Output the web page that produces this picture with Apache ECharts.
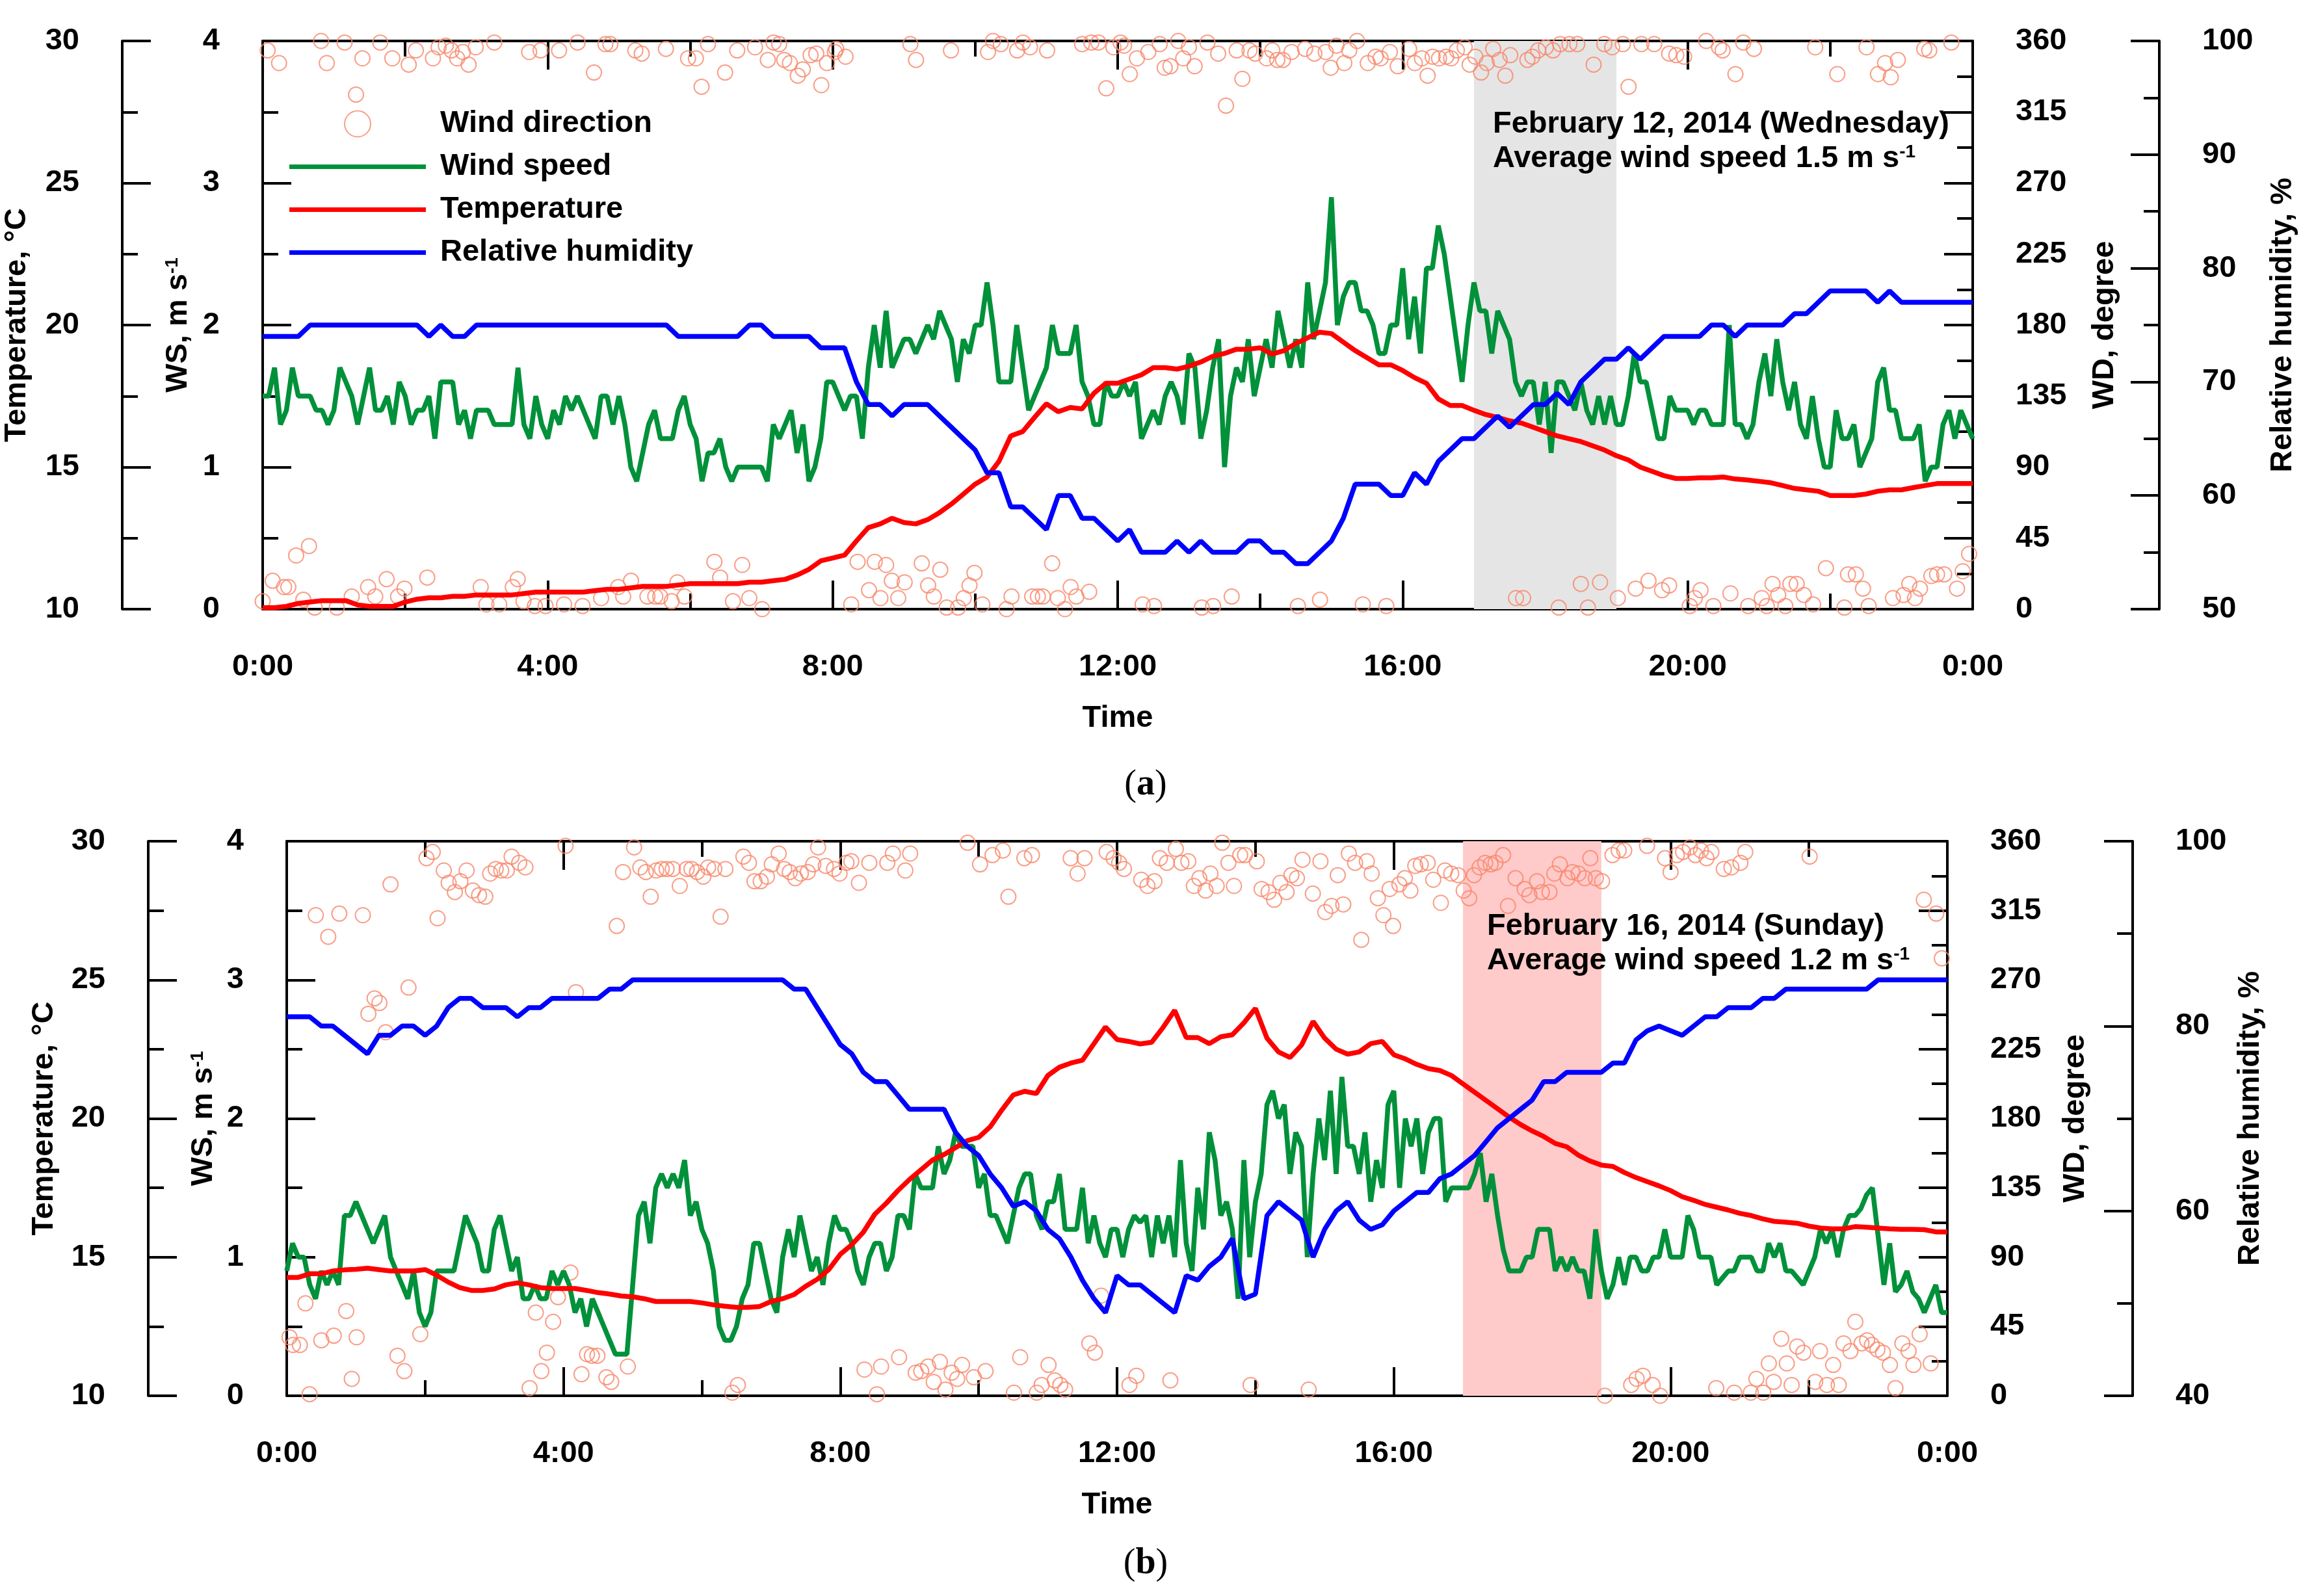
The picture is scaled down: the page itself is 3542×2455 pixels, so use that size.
<!DOCTYPE html>
<html>
<head>
<meta charset="utf-8">
<title>Wind, temperature and humidity</title>
<script src="https://cdn.jsdelivr.net/npm/echarts@6/dist/echarts.min.js"></script>
<style>
html,body{margin:0;padding:0;background:#fff;}
#chartContainer{width:3542px;height:2455px;}
</style>
</head>
<body>
<div id="chartContainer"></div>
<script>
// (a) February 12 - 5 min wind speed, 10 min temperature / humidity
var wsA = [1.5,1.5,1.7,1.3,1.4,1.7,1.5,1.5,1.5,1.4,1.4,1.3,1.4,1.7,1.6,1.5,1.3,1.5,1.7,1.4,
	1.4,1.5,1.3,1.6,1.5,1.3,1.4,1.4,1.5,1.2,1.6,1.6,1.6,1.3,1.4,1.2,1.4,1.4,1.4,1.3,
	1.3,1.3,1.3,1.7,1.3,1.2,1.5,1.3,1.2,1.4,1.3,1.5,1.4,1.5,1.4,1.3,1.2,1.5,1.5,1.3,
	1.5,1.3,1.0,0.9,1.1,1.3,1.4,1.2,1.2,1.2,1.4,1.5,1.3,1.2,0.9,1.1,1.1,1.2,1.0,0.9,
	1.0,1.0,1.0,1.0,1.0,0.9,1.3,1.2,1.3,1.4,1.1,1.3,0.9,1.0,1.2,1.6,
	1.6,1.5,1.4,1.5,1.5,1.2,1.7,2.0,1.7,2.1,1.7,1.8,1.9,1.9,1.8,1.9,2.0,1.9,2.1,2.0,
	1.9,1.6,1.9,1.8,2.0,2.0,2.3,2.0,1.6,1.6,1.6,2.0,1.7,1.4,1.5,1.6,1.7,2.0,1.8,1.8,
	1.8,2.0,1.6,1.5,1.3,1.3,1.6,1.5,1.5,1.6,1.5,1.6,1.2,1.3,1.4,1.3,1.5,1.6,1.5,1.3,
	1.8,1.7,1.2,1.4,1.7,1.9,1.0,1.5,1.7,1.6,1.9,1.5,1.7,1.9,1.7,2.1,1.9,1.7,1.9,1.7,
	2.3,1.9,2.1,2.3,2.9,2.0,2.2,2.3,2.3,2.1,2.1,2.0,1.8,1.8,2.0,2.0,
	2.4,1.9,2.2,1.8,2.4,2.4,2.7,2.5,2.2,1.9,1.6,2.0,2.3,2.1,2.1,1.8,2.1,2.0,1.9,1.6,
	1.5,1.6,1.6,1.3,1.6,1.1,1.6,1.6,1.5,1.4,1.6,1.4,1.3,1.5,1.3,1.5,1.3,1.3,1.5,1.8,
	1.6,1.6,1.4,1.2,1.2,1.5,1.4,1.4,1.4,1.3,1.4,1.4,1.3,1.3,1.3,2.0,1.3,1.3,1.2,1.3,
	1.6,1.8,1.5,1.9,1.6,1.4,1.6,1.3,1.2,1.5,1.2,1.0,1.0,1.4,1.2,1.2,1.3,1.0,1.1,1.2,
	1.6,1.7,1.4,1.4,1.2,1.2,1.2,1.3,0.9,1.0,1.0,1.3,1.4,1.2,1.4,1.3,1.2];
var tempA = [10.05,10.05,10.1,10.2,10.25,10.3,10.3,10.3,10.15,10.1,10.1,10.1,10.25,10.35,10.4,10.4,
	10.45,10.45,10.5,10.5,10.5,10.5,10.55,10.6,10.6,10.6,10.6,10.6,10.65,10.7,10.7,10.75,10.8,10.8,
	10.8,10.85,10.9,10.9,10.9,10.9,10.9,10.95,10.95,11.0,11.05,11.2,11.4,11.7,11.8,
	11.9,12.4,12.87,13.0,13.2,13.05,13.0,13.15,13.4,13.7,14.05,14.4,14.65,15.2,16.1,16.25,16.75,
	17.23,16.95,17.1,17.05,17.6,17.95,17.95,18.1,18.25,18.5,18.5,18.45,18.55,18.7,18.9,19.0,19.15,
	19.15,19.2,18.98,19.1,19.35,19.55,19.75,19.7,19.4,19.1,18.85,18.6,18.6,18.4,
	18.15,17.95,17.4,17.17,17.17,17.0,16.85,16.75,16.63,16.55,16.4,16.25,16.1,16.0,15.9,15.75,
	15.6,15.4,15.25,15.0,14.85,14.7,14.6,14.6,14.62,14.62,14.65,14.58,14.55,14.5,14.45,14.35,
	14.25,14.2,14.15,14.0,14.0,14.0,14.05,14.15,14.2,14.2,14.28,14.35,14.42,14.42,14.42,14.42];
var rhA = [74,74,74,74,75,75,75,75,75,75,75,75,75,75,74,75,74,74,75,75,75,75,75,75,75,75,75,75,
	75,75,75,75,75,75,75,74,74,74,74,74,74,75,75,74,74,74,74,73,73,
	73,70,68,68,67,68,68,68,67,66,65,64,62,62,59,59,58,57,60,60,58,58,57,56,57,55,55,55,56,55,
	56,55,55,55,56,56,55,55,54,54,55,56,58,61,61,61,60,60,
	62,61,63,64,65,65,66,67,66,67,68,68,69,68,70,71,72,72,73,72,73,74,74,74,74,75,75,74,75,75,
	75,75,76,76,77,78,78,78,78,77,78,77,77,77,77,77,77,77];
var wdA = [[0.07,354],[0.23,346],[0.82,360],[0.9,346],[1.15,359],[1.31,326],[1.4,349],[1.65,359],
	[1.82,349],[2.05,345],[2.15,354],[2.39,349],[2.47,356],[2.57,357],[2.65,354],[2.73,349],[2.81,353],
	[2.89,345],[2.99,356],[3.25,359],[3.74,353],[3.9,354],[4.16,354],[4.42,359],[4.65,340],[4.81,358],
	[4.88,358],[5.23,354],[5.32,352],[5.66,355],[5.97,349],[6.08,349],[6.16,331],[6.25,358],[6.49,340],
	[6.66,354],[6.91,356],[7.09,348],[7.17,359],[7.25,358],[7.32,348],[7.4,346],[7.51,338],[7.58,342],
	[7.69,351],[7.77,352],[7.84,332],[7.92,346],[8.03,353],
	[0,5],[0.14,18],[0.3,14],[0.36,14],[0.47,34],[0.65,40],[0.57,6],[0.73,1],[1.04,1],[1.25,8],
	[1.48,14],[1.58,8],[1.74,19],[1.9,8],[1.99,13],[2.31,20],[3.06,14],[3.14,3],[3.32,3],[3.51,14],
	[3.58,19],[3.66,5],[3.82,2],[3.97,2],[4.23,3],[4.49,2],[4.75,7],[4.99,14],[5.06,8],[5.17,18],
	[5.4,8],[5.51,8],[5.58,8],[5.74,5],[5.82,17],[5.92,8],[6.34,30],[6.42,20],[6.6,5],[6.73,28],
	[6.83,7],[7.01,0],
	[8.05,355],[8.18,350],[9.09,358],[9.17,348],[9.66,354],[10.18,353],[10.25,360],[10.36,358],
	[10.59,354],[10.67,359],[10.77,356],[11.01,354],[11.5,358],[11.63,359],[11.73,359],[11.84,330],
	[11.94,356],[12.04,359],[12.09,357],[12.17,339],[12.27,349],[12.43,353],[12.59,358],[12.66,343],
	[12.74,344],[12.85,360],[12.92,349],[13.0,356],[13.08,344],[13.26,359],[13.41,352],[13.52,319],
	[13.67,354],[13.75,336],[13.85,354],[13.93,352],[14.09,349],[14.17,354],[14.24,348],[14.32,348],
	[14.44,353],[14.63,355],[14.76,352],[14.92,353],[14.99,343],[15.07,357],[15.18,346],[15.25,354],
	[15.36,360],[15.51,346],[15.62,350],[15.69,349],[15.82,353],[15.93,344],
	[8.26,3],[8.35,30],[8.51,12],[8.59,30],[8.67,7],[8.75,28],[8.83,18],[8.92,7],[9.01,17],[9.25,29],
	[9.34,15],[9.42,8],[9.51,25],[9.6,1],[9.76,1],[9.84,7],[9.92,15],[9.99,23],[10.1,3],[10.44,0],
	[10.51,8],[10.8,8],[10.88,8],[10.95,8],[11.08,29],[11.16,7],[11.26,0],[11.34,14],[11.42,8],
	[11.6,11],[12.35,3],[12.51,2],[13.18,1],[13.34,2],[13.6,8],[14.53,2],[14.84,6],[15.44,3],[15.77,2],
	[16.09,355],[16.17,346],[16.27,349],[16.35,338],[16.42,350],[16.51,349],[16.61,350],[16.68,349],
	[16.76,354],[16.87,356],[16.94,345],[17.02,350],[17.1,340],[17.18,346],[17.27,355],[17.36,348],
	[17.44,338],[17.51,351],[17.75,348],[17.82,350],[17.9,354],[18.01,356],[18.11,354],[18.21,358],
	[18.34,358],[18.45,358],[18.68,345],[18.83,358],[18.94,356],[19.09,358],[19.17,331],[19.35,358],
	[19.53,358],[19.74,352],[19.84,351],[19.95,350],[20.26,360],[20.44,356],[20.49,354],[20.67,339],
	[20.78,359],[20.93,355],[21.79,356],[22.1,339],[22.51,356],[22.67,339],[22.77,346],[22.85,337],
	[22.95,348],[23.32,355],[23.39,354],[23.7,359],
	[17.59,7],[17.69,7],[18.19,1],[18.5,16],[18.6,1],[18.77,17],[19.02,7],[19.27,13],[19.45,18],
	[19.64,12],[19.74,15],[20.03,2],[20.1,7],[20.18,12],[20.36,2],[20.6,10],[20.85,2],[21.04,7],
	[21.11,2],[21.19,16],[21.27,9],[21.37,2],[21.44,16],[21.53,16],[21.63,9],[21.76,3],[21.94,26],
	[22.2,1],[22.25,22],[22.36,22],[22.46,13],[22.54,2],[22.88,7],[23.03,9],[23.11,16],[23.19,7],
	[23.26,13],[23.42,21],[23.5,22],[23.6,22],[23.78,13],[23.86,24],[23.95,35]];

// (b) February 16
var wsB = [0.9,1.1,1.0,1.0,0.8,0.7,0.9,0.8,0.9,0.8,1.3,1.3,1.4,1.3,1.2,1.1,1.2,1.3,1.0,0.9,
	0.8,0.7,0.9,0.6,0.5,0.6,0.9,0.9,0.9,0.9,1.1,1.3,1.2,1.1,0.9,0.9,1.2,1.3,1.1,0.9,
	1.0,0.7,0.7,0.8,0.7,0.7,0.9,0.8,0.9,0.8,0.6,0.7,0.5,0.7,0.6,0.5,0.4,0.3,0.3,0.3,
	0.8,1.3,1.4,1.1,1.5,1.6,1.5,1.6,1.5,1.7,1.3,1.4,1.2,1.1,0.9,0.5,0.4,0.4,0.5,0.7,
	0.8,1.1,1.1,0.9,0.7,0.6,1.0,1.2,1.0,1.3,1.1,0.9,1.0,0.8,1.1,1.3,
	1.2,1.2,1.1,0.9,0.8,1.0,1.1,1.1,0.9,1.0,1.3,1.3,1.2,1.6,1.5,1.5,1.5,1.8,1.6,1.7,
	1.9,1.8,1.8,1.8,1.5,1.6,1.3,1.3,1.2,1.1,1.3,1.5,1.6,1.6,1.3,1.2,1.4,1.4,1.6,1.2,
	1.2,1.2,1.5,1.1,1.3,1.1,1.0,1.2,1.2,1.0,1.2,1.3,1.25,1.3,1.0,1.3,1.1,1.3,1.0,1.7,
	1.1,0.9,1.5,1.2,1.9,1.7,1.3,1.4,1.2,0.7,1.7,1.0,1.4,1.6,2.1,2.2,2.0,2.1,1.6,1.9,
	1.8,1.0,1.6,2.0,1.7,2.2,1.6,2.3,1.8,1.8,1.6,1.9,1.4,1.7,1.5,2.1,
	2.2,1.5,2.0,1.8,2.0,1.6,1.9,2.0,2.0,1.4,1.5,1.5,1.5,1.5,1.6,1.75,1.4,1.6,1.3,1.05,
	0.9,0.9,0.9,1.0,1.0,1.2,1.2,1.2,0.9,1.0,0.9,1.0,0.9,0.9,0.7,1.2,0.9,0.7,0.8,1.0,
	0.8,1.0,1.0,0.9,0.9,1.0,1.0,1.2,1.0,1.0,1.0,1.3,1.2,1.0,1.0,1.0,0.8,0.85,0.9,0.9,
	1.0,1.0,1.0,0.9,0.9,1.1,1.0,1.1,0.9,0.9,0.85,0.8,0.9,1.0,1.2,1.1,1.2,1.0,1.2,1.3,
	1.3,1.35,1.45,1.5,1.15,0.8,1.1,0.75,0.8,0.9,0.75,0.7,0.6,0.7,0.8,0.6,0.6];
var tempB = [14.27,14.27,14.4,14.4,14.5,14.54,14.56,14.6,14.55,14.5,14.5,14.5,14.55,14.35,14.1,13.9,
	13.8,13.8,13.85,14.0,14.07,14.0,13.9,13.87,13.87,13.87,13.8,13.72,13.67,13.6,13.57,13.5,13.4,13.4,
	13.4,13.4,13.35,13.28,13.23,13.19,13.19,13.22,13.4,13.5,13.65,13.95,14.2,14.55,15.1,
	15.45,15.9,16.55,16.95,17.4,17.8,18.15,18.5,18.7,18.95,19.2,19.32,19.7,20.3,20.85,20.98,20.9,
	21.55,21.85,22.0,22.1,22.7,23.3,22.85,22.78,22.69,22.75,23.29,23.9,22.92,22.92,22.7,22.95,23.02,
	23.45,23.97,22.9,22.4,22.2,22.65,23.5,22.9,22.5,22.32,22.4,22.7,22.78,22.3,
	22.15,21.95,21.8,21.73,21.55,21.25,20.95,20.65,20.35,20.05,19.78,19.55,19.35,19.1,18.98,18.68,
	18.47,18.32,18.27,18.05,17.87,17.72,17.57,17.4,17.18,17.05,16.9,16.8,16.7,16.58,16.5,16.38,
	16.29,16.26,16.22,16.12,16.05,16.02,16.02,16.1,16.08,16.05,16.02,16.0,16.0,15.99,15.91,15.91];
var rhB = [81,81,81,80,80,79,78,77,79,79,80,80,79,80,82,83,83,82,82,82,81,82,82,83,83,83,83,83,
	84,84,85,85,85,85,85,85,85,85,85,85,85,85,85,85,84,84,82,80,78,
	77,75,74,74,72.5,71,71,71,71,68.5,67,66,64,62.5,60.5,61,60,58,57,55,52.5,50.5,49,53,52,52,
	51,50,49,53,52.5,54,55,57,50.5,51,59.5,61,60,59,55,58,60,61,59,58,58.5,60,
	61,62,62,63.5,64,65,66,67.5,69,70,71,72,74,74,75,75,75,75,76,76,78.5,79.5,80,79.5,79,80,
	81,81,82,82,82,83,83,84,84,84,84,84,84,84,84,85,85,85,85,85,85,85];
var wdB = [[0.04,38],[0.09,33],[0.19,33],[0.27,60],[0.33,1],[0.42,312],[0.5,36],[0.6,298],[0.68,39],
	[0.76,313],[0.86,55],[0.94,11],[1.01,38],[1.1,312],[1.18,248],[1.27,258],[1.34,255],[1.43,236],
	[1.5,332],[1.6,26],[1.7,16],[1.76,265],[1.93,40],[2.02,349],[2.11,353],[2.18,310],[2.27,341],
	[2.34,333],[2.43,327],[2.51,334],[2.6,341],[2.69,328],[2.78,325],[2.87,324],[2.94,339],[3.02,342],
	[3.1,341],[3.18,341],[3.25,350],[3.36,346],[3.45,343],[3.51,5],[3.6,54],[3.68,16],[3.76,28],
	[3.85,48],[3.92,64],[4.03,357],[4.1,80],[4.18,262],[4.26,14],[4.34,27],[4.41,26],[4.49,26],
	[4.62,12],[4.69,9],[4.77,305],[4.86,340],[4.93,19],[5.02,356],[5.11,343],[5.19,340],[5.26,324],
	[5.34,341],[5.42,342],[5.49,342],[5.58,342],[5.68,331],[5.78,342],[5.85,342],[5.93,340],[6.02,337],
	[6.09,343],[6.18,342],[6.27,311],[6.34,342],[6.44,2],[6.52,7],[6.6,350],[6.68,346],[6.76,334],
	[6.85,334],[6.94,337],[7.01,345],[7.11,352],[7.19,342],[7.27,340],[7.35,336],[7.43,339],[7.53,340],
	[7.61,345],[7.68,356],[7.79,344],[7.91,342],[7.99,339],
	[8.09,346],[8.16,347],[8.27,333],[8.42,346],[8.68,346],[8.76,352],[8.94,341],[9.01,352],[9.84,359],
	[10.02,345],[10.2,351],[10.35,354],[10.43,324],[10.66,349],[10.77,351],[11.33,349],[11.43,339],
	[11.53,349],[11.85,353],[11.95,349],[12.03,346],[12.1,342],[12.35,335],[12.44,331],[12.54,334],
	[12.62,349],[12.72,346],[12.85,355],[12.93,346],[13.03,347],[13.11,331],[13.19,336],[13.28,328],
	[13.35,339],[13.44,331],[13.52,359],[13.61,346],[13.69,331],[13.78,351],[13.85,351],[14.02,347],
	[14.09,329],[14.19,327],[14.27,322],[14.36,333],[14.45,327],[14.52,338],[14.6,336],[14.68,348],
	[14.83,326],[14.94,347],[15.01,314],[15.1,318],[15.19,338],[15.27,319],[15.35,352],[15.44,346],
	[15.53,296],[15.61,347],[15.68,339],[15.77,323],[15.85,312],[15.94,329],[15.99,305],
	[8.35,17],[8.53,1],[8.59,19],[8.85,25],[9.09,15],[9.17,16],[9.27,19],[9.35,9],[9.44,22],[9.52,4],
	[9.61,15],[9.69,11],[9.76,20],[9.93,12],[10.1,16],[10.51,2],[10.6,25],[10.84,2],[10.91,7],
	[11.01,20],[11.1,10],[11.18,7],[11.25,4],[11.6,34],[11.68,28],[11.77,65],[12.18,7],[12.28,13],
	[12.77,10],[13.93,7],[14.77,4],
	[16.08,332],[16.16,336],[16.24,328],[16.31,344],[16.39,345],[16.49,346],[16.57,335],[16.68,320],
	[16.74,341],[16.83,339],[16.93,338],[17.01,328],[17.09,323],[17.16,338],[17.24,343],[17.32,346],
	[17.4,345],[17.47,346],[17.58,351],[17.65,318],[17.76,336],[17.89,329],[17.96,325],[18.07,334],
	[18.14,327],[18.25,327],[18.32,339],[18.4,345],[18.51,336],[18.58,340],[18.67,339],[18.76,336],
	[18.84,349],[18.92,336],[19.01,334],[19.16,351],[19.25,354],[19.33,354],[19.66,357],[19.92,349],
	[20.0,340],[20.09,351],[20.18,353],[20.28,356],[20.36,351],[20.44,354],[20.52,349],[20.59,353],
	[20.77,342],[20.88,343],[21.01,346],[21.08,353],[22.01,350],[23.66,322],[23.84,313],[23.92,284],
	[19.05,0],[19.43,7],[19.51,11],[19.6,13],[19.74,7],[19.85,0],[20.66,5],[20.92,2],[21.16,2],
	[21.24,11],[21.34,2],[21.42,21],[21.49,9],[21.6,37],[21.68,21],[21.75,7],[21.83,32],[21.92,28],
	[22.09,9],[22.16,29],[22.26,7],[22.35,20],[22.43,7],[22.5,34],[22.6,29],[22.67,48],[22.76,34],
	[22.84,36],[22.91,33],[22.99,30],[23.07,28],[23.17,20],[23.25,5],[23.35,34],[23.44,29],[23.51,20],
	[23.6,40],[23.76,21]];

var FONT = '"Liberation Sans", Arial, sans-serif';
var circleColor = '#f7876a';
var FS = 47;

// 5 min / 10 min samples -> [hour, value]
function toPairs(arr, perHour){
	var out = [];
	for(var i=0;i<arr.length;i++){
		out.push([i/perHour, arr[i]]);
	}
	return out;
}
function richName(txt, sup){
	return sup ? '{n|'+txt+'}{s|'+sup+'}' : '{n|'+txt+'}';
}
var nameRich = {
	n:{fontSize:FS,fontWeight:'bold',fontFamily:FONT,color:'#000'},
	s:{fontSize:28,fontWeight:'bold',fontFamily:FONT,color:'#000',verticalAlign:'top'}
};
// ticks came out pointing into the plot, so flip them
var tickStyle = {show:true,inside:true,length:44,lineStyle:{color:'#000',width:4}};
var minorStyle = {show:true,splitNumber:2,length:24,lineStyle:{color:'#000',width:4}};
//x axis, bottom with labels or top mirror
function xAx(grid, top){
	return {
		type:'value', gridIndex:grid, position: top?'top':'bottom',
		min:0, max:24, interval:4,
		name: top?'':'Time', nameLocation:'middle', nameGap:145,
		nameTextStyle:{fontSize:FS,fontWeight:'bold',fontFamily:FONT,color:'#000'},
		axisLine:{show:true,onZero:false,lineStyle:{color:'#000',width:4}},
		axisTick:tickStyle, minorTick:minorStyle,
		splitLine:{show:false}, minorSplitLine:{show:false},
		axisLabel:{show:!top,inside:false,margin:66,fontSize:FS,fontWeight:'bold',fontFamily:FONT,color:'#000',
			showMinLabel:true,showMaxLabel:true,
			formatter:function(v){ return (v%24)+':00'; }}
	};
}
function yAx(grid, pos, off, min, max, step, name, sup, gap){
	return {
		type:'value', gridIndex:grid, position:pos, offset:off,
		min:min, max:max, interval:step,
		name:richName(name, sup), nameLocation:'middle', nameGap:gap, nameRotate:90,
		nameTextStyle:{rich:nameRich},
		axisLine:{show:true,onZero:false,lineStyle:{color:'#000',width:4}},
		axisTick:tickStyle, minorTick:minorStyle,
		splitLine:{show:false}, minorSplitLine:{show:false},
		axisLabel:{inside:false,margin:66,fontSize:FS,fontWeight:'bold',fontFamily:FONT,color:'#000',
			showMinLabel:true,showMaxLabel:true}
	};
}
function panelSeries(grid, ws, temp, rh, wd, shade){
	var y0 = grid*4;
	return [
		{type:'line', xAxisIndex:grid*2, yAxisIndex:y0, data:[], z:1, silent:true,
			markArea:{silent:true, z:1, itemStyle:{color:shade}, data:[[{xAxis:17},{xAxis:19}]]}},
		{name:'Wind direction', type:'scatter', xAxisIndex:grid*2, yAxisIndex:y0+2, data:wd,
			symbol:'circle', symbolSize:23, z:2,
			itemStyle:{color:'rgba(255,255,255,0)', borderColor:circleColor, borderWidth:2}},
		{name:'Wind speed', type:'line', xAxisIndex:grid*2, yAxisIndex:y0, data:toPairs(ws,12),
			symbol:'none', z:3, lineStyle:{color:'#00913a', width:7.5}, itemStyle:{color:'#00913a'}},
		{name:'Temperature', type:'line', xAxisIndex:grid*2, yAxisIndex:y0+1, data:toPairs(temp,6),
			symbol:'none', z:4, lineStyle:{color:'#ff0000', width:7.5}, itemStyle:{color:'#ff0000'}},
		{name:'Relative humidity', type:'line', xAxisIndex:grid*2, yAxisIndex:y0+3, data:toPairs(rh,6),
			symbol:'none', z:5, lineStyle:{color:'#0000ff', width:7.5}, itemStyle:{color:'#0000ff'}}
	];
}
function label(x, y, line1, line2){
	return [
		{type:'text', x:x, y:y, z:200, style:{text:line1, font:'bold '+FS+'px '+FONT, fill:'#000', verticalAlign:'middle'}},
		{type:'text', x:x, y:y+53, z:200, style:{text:'{a|'+line2+'}{s|-1}', verticalAlign:'middle',
			rich:{a:{fontSize:FS,fontWeight:'bold',fontFamily:FONT,color:'#000'},
				s:{fontSize:28,fontWeight:'bold',fontFamily:FONT,color:'#000',verticalAlign:'top'}}}}
	];
}
function panelTag(x, y, ch){
	return {type:'text', x:x, y:y, z:200, style:{text:'{n|(}{b|'+ch+'}{n|)}', align:'center', verticalAlign:'middle',
		rich:{n:{fontSize:56,fontFamily:'"Liberation Serif", serif',color:'#000'},
			b:{fontSize:56,fontWeight:'bold',fontFamily:'"Liberation Serif", serif',color:'#000'}}}};
}
var lineIcon = 'path://M0,0H300V10H0Z';

var option = {
	animation:false,
	backgroundColor:'#fff',
	textStyle:{fontFamily:FONT},
	grid:[
		{left:404, top:63, width:2630, height:874, outerBoundsMode:'none', containLabel:false},
		{left:441, top:1294, width:2554, height:853, outerBoundsMode:'none', containLabel:false}
	],
	legend:{
		orient:'vertical', left:440, top:162, selectedMode:false,
		itemWidth:210, itemHeight:40, itemGap:19,
		textStyle:{fontSize:FS, fontWeight:'bold', fontFamily:FONT, color:'#000', padding:[0,0,0,17]},
		data:[
			{name:'Wind direction', icon:'circle',
				itemStyle:{color:'rgba(255,255,255,0)', borderColor:circleColor, borderWidth:2}},
			{name:'Wind speed', icon:lineIcon, itemStyle:{color:'#00913a', borderWidth:0}},
			{name:'Temperature', icon:lineIcon, itemStyle:{color:'#ff0000', borderWidth:0}},
			{name:'Relative humidity', icon:lineIcon, itemStyle:{color:'#0000ff', borderWidth:0}}
		]
	},
	xAxis:[xAx(0,false), xAx(0,true), xAx(1,false), xAx(1,true)],
	yAxis:[
		yAx(0,'left',0,0,4,1,'WS, m s','-1',106),
		yAx(0,'left',216,10,30,5,'Temperature, \u00b0C','',138),
		yAx(0,'right',0,0,360,45,'WD, degree','',180),
		yAx(0,'right',287,50,100,10,'Relative humidity, %','',167),
		yAx(1,'left',0,0,4,1,'WS, m s','-1',104),
		yAx(1,'left',213,10,30,5,'Temperature, \u00b0C','',136),
		yAx(1,'right',0,0,360,45,'WD, degree','',174),
		yAx(1,'right',285,40,100,20,'Relative humidity, %','',158)
	],
	series:panelSeries(0, wsA, tempA, rhA, wdA, '#e5e5e5')
		.concat(panelSeries(1, wsB, tempB, rhB, wdB, '#ffcaca')),
	graphic:{elements:[].concat(
		label(2296, 191, 'February 12, 2014 (Wednesday)', 'Average wind speed 1.5 m s'),
		label(2287, 1425, 'February 16, 2014 (Sunday)', 'Average wind speed 1.2 m s'),
		[panelTag(1762, 1208, 'a'), panelTag(1762, 2406, 'b')]
	)}
};

var myChart = echarts.init(document.getElementById('chartContainer'));
myChart.setOption(option);
</script>
</body>
</html>
